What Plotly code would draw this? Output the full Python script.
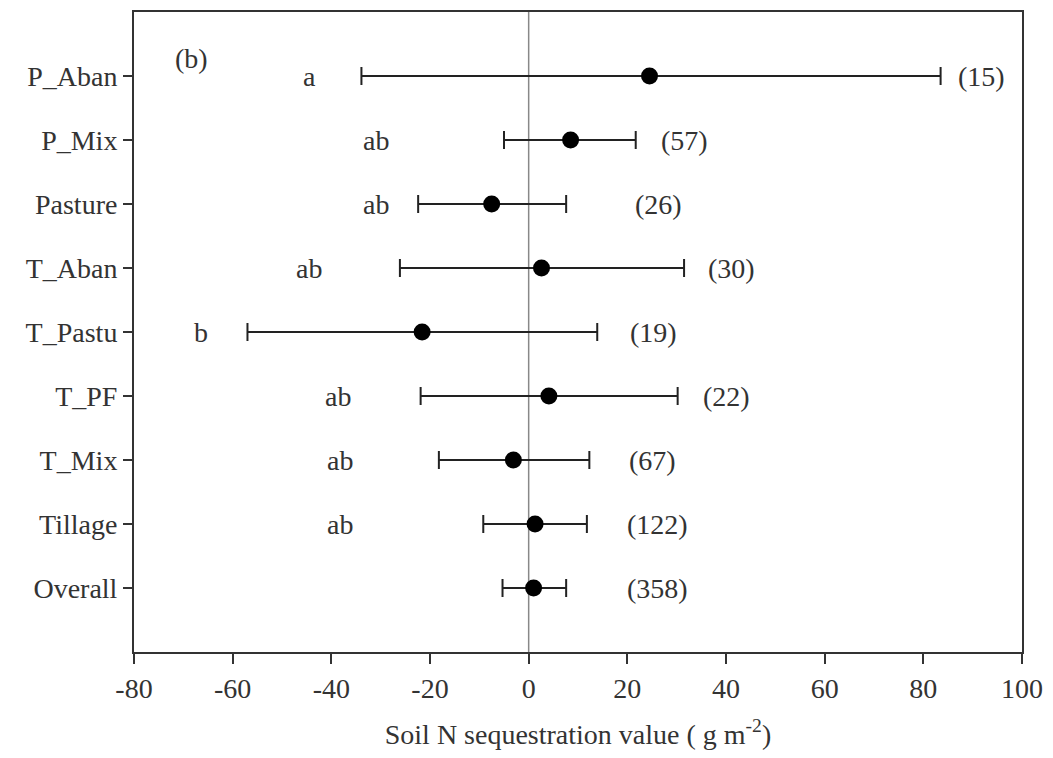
import plotly.graph_objects as go

categories = ["P_Aban", "P_Mix", "Pasture", "T_Aban", "T_Pastu", "T_PF", "T_Mix", "Tillage", "Overall"]
means = [24.5, 8.5, -7.5, 2.6, -21.6, 4.1, -3.1, 1.3, 1.0]
ci_low = [-33.9, -5.0, -22.4, -26.1, -57.0, -21.9, -18.2, -9.2, -5.3]
ci_high = [83.5, 21.7, 7.6, 31.5, 13.9, 30.2, 12.3, 11.8, 7.6]
letters = ["a", "ab", "ab", "ab", "b", "ab", "ab", "ab", ""]
counts = ["(15)", "(57)", "(26)", "(30)", "(19)", "(22)", "(67)", "(122)", "(358)"]
x_ticks = [-80, -60, -40, -20, 0, 20, 40, 60, 80, 100]
x_ticklabels = ["-80", "-60", "-40", "-20", "0", "20", "40", "60", "80", "100"]

# label placement (x in data units)
letter_x = [-44.5, -31.0, -31.0, -44.5, -66.4, -38.6, -38.3, -38.3, None]
count_x = [91.7, 31.5, 26.4, 41.1, 25.3, 40.1, 25.2, 26.2, 26.1]

n = len(categories)
ypos = [n - i for i in range(n)]

FONT = "Liberation Serif"
TXT = "#333333"
FS = 28

fig = go.Figure()
fig.add_trace(go.Scatter(
    x=means, y=ypos, mode="markers",
    marker=dict(color="black", size=17),
    error_x=dict(type="data", symmetric=False,
                 array=[h - m for h, m in zip(ci_high, means)],
                 arrayminus=[m - l for m, l in zip(means, ci_low)],
                 color="#222222", thickness=2, width=9),
    showlegend=False, hoverinfo="skip",
))

fig.add_shape(type="line", x0=0, x1=0, y0=0, y1=10, xref="x", yref="y",
              line=dict(color="#888888", width=1.5), layer="below")

for i in range(n):
    if letters[i]:
        fig.add_annotation(x=letter_x[i], y=ypos[i], text=letters[i], showarrow=False,
                           font=dict(family=FONT, size=FS, color=TXT))
    fig.add_annotation(x=count_x[i], y=ypos[i], text=counts[i], showarrow=False,
                       font=dict(family=FONT, size=FS, color=TXT))

fig.add_annotation(x=-68.3, y=9.27, text="(b)", showarrow=False,
                   font=dict(family=FONT, size=FS, color=TXT))

fig.update_layout(
    width=1037, height=742,
    margin=dict(l=126, r=20, t=2, b=98),
    paper_bgcolor="white", plot_bgcolor="white",
    font=dict(family=FONT, size=FS, color=TXT),
    xaxis=dict(range=[-80, 100], tickvals=x_ticks, ticktext=x_ticklabels,
               showgrid=False, zeroline=False, ticklabeloverflow="allow",
               showline=True, linecolor="#333333", linewidth=2, mirror=True,
               ticks="outside", ticklen=10, tickwidth=1.5, tickcolor="#333333",
               title=dict(text="Soil N sequestration value ( g m<sup>-2</sup>)",
                          font=dict(family=FONT, size=FS, color=TXT), standoff=22),
               tickfont=dict(family=FONT, size=FS, color=TXT)),
    yaxis=dict(range=[0, 10], tickvals=ypos, ticktext=categories,
               showgrid=False, zeroline=False,
               showline=True, linecolor="#333333", linewidth=2, mirror=True,
               ticks="outside", ticklen=9, tickwidth=1.5, tickcolor="#333333",
               tickfont=dict(family=FONT, size=FS, color=TXT)),
)

fig.write_html("out.html")
